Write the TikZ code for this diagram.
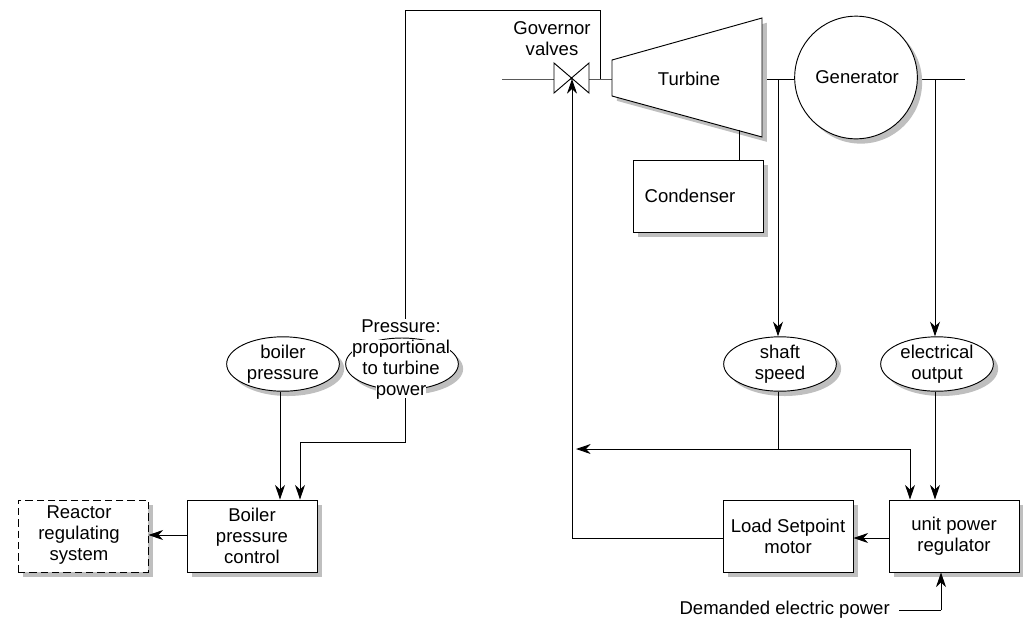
\documentclass[tikz,border=0pt]{standalone}
\usepackage{fontspec}
\setmainfont{Liberation Sans}
\usepackage{tikz}
\usetikzlibrary{arrows.meta,shapes.geometric,positioning}
\newcommand{\maskline}[1]{{\fboxsep=0pt\colorbox{white}{#1}}}
\tikzset{
  labelfont/.style={font=\fontsize{13.9pt}{15.9pt}\selectfont},
  plant/.style={draw,fill=white,line width=0.7pt,
    preaction={draw=none,fill=black!25,transform canvas={shift={(3.6pt,-3.6pt)}}}},
  blockbox/.style={plant,rectangle,minimum width=97.5pt,minimum height=54pt,
    inner sep=0pt,align=center,labelfont},
  sensor/.style={plant,ellipse,minimum width=84.5pt,minimum height=39pt,
    inner sep=0pt,align=center,labelfont},
  caption/.style={inner sep=0pt,align=center,labelfont},
  wire/.style={line width=0.7pt},
  feed/.style={wire,-{Stealth[length=11pt,width=7.5pt,inset=3.5pt]}}
}
\begin{document}
\begin{tikzpicture}[x=0.75pt,y=-0.75pt]
    \useasboundingbox (0,0) rectangle (1023,619);
    % steam path
    \coordinate (inlet) at (502,79);
    \coordinate (valve) at (572,79);
    \coordinate (outlet) at (965,79);
    \coordinate (tap) at (600,79);
    \coordinate (shafttap) at (778,79);
    \coordinate (elecTap) at (935,79);
    \coordinate (presTop) at (405,10);
    \coordinate (presAbove) at (405,320);
    \coordinate (presBelow) at (405,398);
    \coordinate (presKnee) at (405,442);
    \coordinate (boilerIn) at (300,442);
    \coordinate (busEnd) at (576,449);
    \coordinate (busTap) at (778,449);
    \coordinate (busKnee) at (910,449);
    \coordinate (motorKnee) at (572,538);
    \coordinate (demandStart) at (899,610);
    \coordinate (demandKnee) at (941,610);
    \coordinate (turbineFoot) at (739,130);
    \draw[wire] (inlet) -- (valve) -- (outlet);
    \draw[wire] (tap) |- (presTop) -- (presAbove);
    % turbine and generator
    \draw[plant] (612,60) -- (762,18) -- (762,137) -- (612,96) -- cycle;
    \node[caption] (turbine) at (689,79) {Turbine};
    \node[plant,circle,minimum size=92pt,inner sep=0pt,labelfont] (generator) at (856,77.5) {\hspace*{1.5pt}Generator};
    \draw[wire,fill=white] (554,63) -- (589,93) -- (589,63) -- (554,93) -- cycle;
    \node[caption] (governor) at (552,39) {Governor\\valves};
    \node[blockbox] (condenser) at (698,196) {};
    \node[caption] (condensertext) at (690,196) {Condenser};
    \draw[wire] (turbineFoot) -- (condenser.north -| turbineFoot);
    % sensors
    \node[sensor] (boilerpres) at (283,364) {boiler\\pressure};
    \node[sensor] (turbinepres) at (402,364) {};
    \node[caption] (prestext) at (401,359.5) {\maskline{Pressure:}\\\maskline{proportional}\\to turbine\\\maskline{power}};
    \node[sensor] (shaftspeed) at (780,364) {shaft\\speed};
    \node[sensor] (elecoutput) at (937,364) {electrical\\output};
    % control blocks
    \node[blockbox,dash pattern=on 5.5pt off 3pt] (reactor) at (83,536) {};
    \node[caption] (reactortext) at (79,535) {Reactor\\regulating\\system};
    \node[blockbox] (boilerctl) at (252,536) {Boiler\\pressure\\control};
    \node[blockbox] (loadmotor) at (788,536) {Load Setpoint\\motor};
    \node[blockbox] (unitreg) at (954,536) {unit power\\regulator};
    \node[caption,anchor=east] (demand) at (890,610) {Demanded electric power};
    % signals
    \draw[feed] (shafttap) -- (shafttap |- shaftspeed.north);
    \draw[feed] (elecTap) -- (elecTap |- elecoutput.north);
    \draw[feed] (boilerpres.south -| 280,0) -- (boilerctl.north -| 280,0);
    \draw[wire] (presBelow) -- (presKnee) -- (boilerIn);
    \draw[feed] (boilerIn) -- (boilerctl.north -| boilerIn);
    \draw[feed] (boilerctl.west |- 0,535) -- (reactor.east |- 0,535);
    \draw[wire] (busTap |- shaftspeed.south) -- (busTap);
    \draw[feed] (busKnee) -- (busEnd);
    \draw[feed] (busKnee) -- (unitreg.north -| busKnee);
    \draw[feed] (elecoutput.south -| elecTap) -- (unitreg.north -| elecTap);
    \draw[feed] (unitreg.west |- 0,538) -- (loadmotor.east |- 0,538);
    \draw[wire] (loadmotor.west |- 0,538) -- (motorKnee);
    \draw[feed] (motorKnee) -- (valve);
    \draw[wire] (demandStart) -- (demandKnee);
    \draw[feed] (demandKnee) -- (unitreg.south -| demandKnee);
  \end{tikzpicture}
\end{document}
